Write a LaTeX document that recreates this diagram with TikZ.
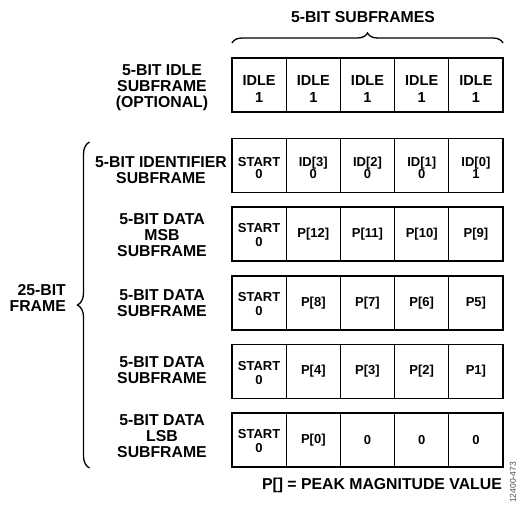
\documentclass[tikz,border=0pt]{standalone}
\usepackage{fontspec}
\setmainfont{Liberation Sans}
\usetikzlibrary{decorations.pathreplacing}
\begin{document}
\begin{tikzpicture}[x=1pt,y=-1pt,
  cell/.style={draw, line width=1.3pt, minimum width=54.2pt, minimum height=54pt, inner sep=0pt, align=center},
  idlecell/.style={cell, text height=37.4pt, text depth=3pt, font=\fontsize{14.5}{17}\selectfont\bfseries},
  idcell/.style={cell, text height=29.4pt, text depth=3pt, font=\fontsize{13}{12}\selectfont\bfseries},
  datacell/.style={cell, font=\fontsize{13}{14}\selectfont\bfseries},
  startcell/.style={datacell, text height=28.2pt, text depth=3pt},
  lbl/.style={align=center, inner sep=0pt, font=\fontsize{15.8}{16}\selectfont\bfseries},
  bracestyle/.style={line width=1.3pt, decorate, decoration={brace, amplitude=#1}}
]
\useasboundingbox (0,0) rectangle (522,506);
% row 0: idle
\node[idlecell] (r0c1) at (259.1,85) {IDLE\\1};
\node[idlecell] (r0c2) at (313.3,85) {IDLE\\1};
\node[idlecell] (r0c3) at (367.5,85) {IDLE\\1};
\node[idlecell] (r0c4) at (421.7,85) {IDLE\\1};
\node[idlecell] (r0c5) at (475.9,85) {IDLE\\1};
% row 1: identifier
\node[idcell] (r1c1) at (259.1,165.5) {START\\0};
\node[idcell] (r1c2) at (313.3,165.5) {ID[3]\\0};
\node[idcell] (r1c3) at (367.5,165.5) {ID[2]\\0};
\node[idcell] (r1c4) at (421.7,165.5) {ID[1]\\0};
\node[idcell] (r1c5) at (475.9,165.5) {ID[0]\\1};
% row 2: MSB
\node[startcell] (r2c1) at (259.1,234) {START\\0};
\node[datacell] (r2c2) at (313.3,234) {P[12]};
\node[datacell] (r2c3) at (367.5,234) {P[11]};
\node[datacell] (r2c4) at (421.7,234) {P[10]};
\node[datacell] (r2c5) at (475.9,234) {P[9]};
% row 3
\node[startcell] (r3c1) at (259.1,303) {START\\0};
\node[datacell] (r3c2) at (313.3,303) {P[8]};
\node[datacell] (r3c3) at (367.5,303) {P[7]};
\node[datacell] (r3c4) at (421.7,303) {P[6]};
\node[datacell] (r3c5) at (475.9,303) {P5]};
% row 4
\node[startcell] (r4c1) at (259.1,371.5) {START\\0};
\node[datacell] (r4c2) at (313.3,371.5) {P[4]};
\node[datacell] (r4c3) at (367.5,371.5) {P[3]};
\node[datacell] (r4c4) at (421.7,371.5) {P[2]};
\node[datacell] (r4c5) at (475.9,371.5) {P1]};
% row 5: LSB
\node[startcell] (r5c1) at (259.1,440) {START\\0};
\node[datacell] (r5c2) at (313.3,440) {P[0]};
\node[datacell] (r5c3) at (367.5,440) {0};
\node[datacell] (r5c4) at (421.7,440) {0};
\node[datacell] (r5c5) at (475.9,440) {0};
% row labels
\node[lbl] (l0) at (162,88) {5-BIT IDLE\\SUBFRAME\\(OPTIONAL)};
\node[lbl] (l1) at (161,170) {5-BIT IDENTIFIER\\SUBFRAME};
\node[lbl] (l2) at (162,235) {5-BIT DATA\\MSB\\SUBFRAME};
\node[lbl] (l3) at (162,303.5) {5-BIT DATA\\SUBFRAME};
\node[lbl] (l4) at (162,370) {5-BIT DATA\\SUBFRAME};
\node[lbl] (l5) at (162,436) {5-BIT DATA\\LSB\\SUBFRAME};
% top brace
\coordinate (tb1) at (232,43);
\coordinate (tb2) at (503,43);
\draw[bracestyle=10pt] (tb1) -- (tb2);
\node[lbl] (title) at (363,17.5) {5-BIT SUBFRAMES};
% left brace
\coordinate (lb1) at (89.5,468);
\coordinate (lb2) at (89.5,142);
\draw[bracestyle=12pt] (lb1) -- (lb2);
\node[lbl, align=right, anchor=east] (frame) at (66,298) {25-BIT\\FRAME};
% footer
\node[lbl, anchor=east] (foot) at (502,485) {P[] = PEAK MAGNITUDE VALUE};
\node[rotate=90, inner sep=0pt, text=black!70, font=\fontsize{8.5}{8.5}\selectfont] (code) at (513,482.5) {12400-473};
\end{tikzpicture}
\end{document}
